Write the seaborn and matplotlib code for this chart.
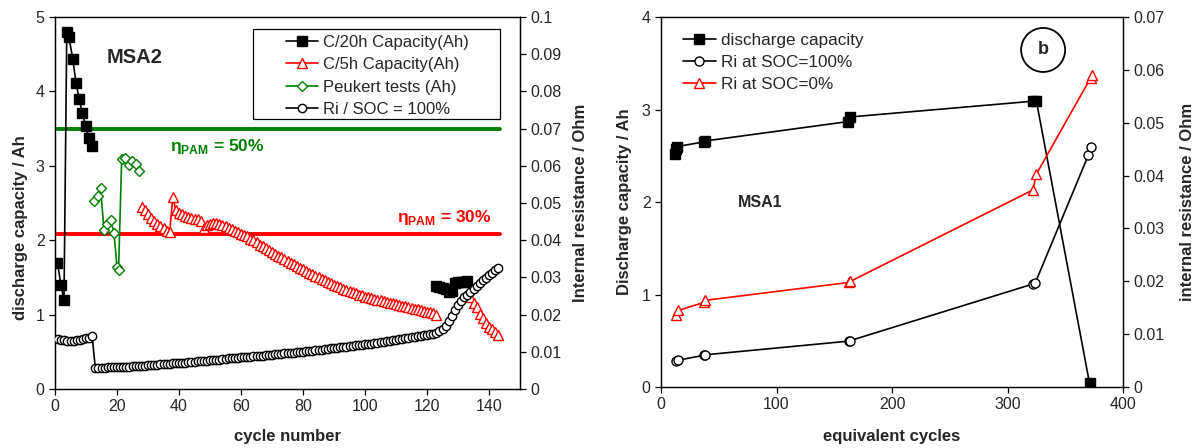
import matplotlib
matplotlib.use('Agg')
import matplotlib.pyplot as plt
import seaborn as sns
import numpy as np
from matplotlib.lines import Line2D
from matplotlib.patches import Ellipse, Rectangle
from matplotlib.ticker import FuncFormatter, MultipleLocator

# ----- data: left panel (MSA2) -----
c20_cycle_a = [0.8, 1.9, 2.9, 3.8, 4.5, 5.7, 6.8, 7.8, 8.8, 9.9, 10.9, 12.0]
c20_cap_a = [1.70, 1.40, 1.19, 4.80, 4.73, 4.44, 4.11, 3.90, 3.71, 3.54, 3.37, 3.26]
c20_cycle_b = [123, 124, 125, 126, 127, 128, 129, 130, 131, 132, 133]
c20_cap_b = [1.38, 1.37, 1.36, 1.34, 1.31, 1.32, 1.42, 1.44, 1.44, 1.44, 1.45]

peukert_cycle = [12.7, 13.8, 14.7, 15.8, 16.9, 18.0, 19.0, 20.0, 20.5, 21.5, 22.6, 23.9, 24.9, 26.1, 27.0]
peukert_cap = [2.53, 2.59, 2.70, 2.14, 2.22, 2.27, 2.10, 1.64, 1.60, 3.09, 3.11, 3.01, 3.06, 3.03, 2.93]

c5_cycle_a = list(range(28, 124))
c5_cap_a = [2.45, 2.40, 2.35, 2.30, 2.26, 2.22, 2.19, 2.16, 2.13, 2.11,
            2.58, 2.40, 2.37, 2.35, 2.33, 2.31, 2.30, 2.29, 2.28, 2.26,
            2.16, 2.20, 2.22, 2.23, 2.23, 2.22, 2.21, 2.19, 2.17, 2.15,
            2.13, 2.11, 2.09, 2.07, 2.05, 2.02, 2.00, 1.97, 1.94, 1.92,
            1.89, 1.87, 1.84, 1.82, 1.79, 1.77, 1.75, 1.72, 1.70, 1.68,
            1.65, 1.63, 1.61, 1.59, 1.56, 1.54, 1.52, 1.50, 1.48, 1.46,
            1.44, 1.42, 1.40, 1.39, 1.37, 1.35, 1.33, 1.32, 1.30, 1.29,
            1.27, 1.26, 1.24, 1.23, 1.22, 1.21, 1.20, 1.19, 1.18, 1.17,
            1.16, 1.15, 1.14, 1.13, 1.12, 1.11, 1.10, 1.09, 1.08, 1.07,
            1.06, 1.05, 1.04, 1.03, 1.02, 1.00]
c5_cycle_b = list(range(134, 144))
c5_cap_b = [1.24, 1.16, 1.10, 1.01, 0.95, 0.89, 0.84, 0.80, 0.77, 0.73]

ri_cycle = list(range(1, 144))
ri_ohm = [0.0135, 0.0132, 0.0133, 0.0129, 0.0128, 0.0130, 0.0132, 0.0133, 0.0134, 0.0136, 0.0137, 0.0142,
          0.0056, 0.0056, 0.0057, 0.0057, 0.0058, 0.0058, 0.0058,
          0.0058, 0.0059, 0.0059, 0.0060, 0.0060, 0.0061, 0.0062, 0.0062, 0.0063, 0.0063,
          0.0064, 0.0064, 0.0065, 0.0065, 0.0066, 0.0067, 0.0067, 0.0068, 0.0069, 0.0069,
          0.0070, 0.0071, 0.0071, 0.0072, 0.0073, 0.0073, 0.0074, 0.0075, 0.0076, 0.0076,
          0.0077, 0.0078, 0.0079, 0.0079, 0.0080, 0.0081, 0.0082, 0.0083, 0.0083, 0.0084,
          0.0085, 0.0086, 0.0086, 0.0087, 0.0088, 0.0089, 0.0089, 0.0090, 0.0091, 0.0092,
          0.0092, 0.0093, 0.0094, 0.0095, 0.0096, 0.0096, 0.0097, 0.0098, 0.0099, 0.0100,
          0.0100, 0.0101, 0.0102, 0.0103, 0.0104, 0.0105, 0.0106, 0.0107, 0.0108, 0.0109,
          0.0110, 0.0111, 0.0112, 0.0113, 0.0114, 0.0115, 0.0116, 0.0117, 0.0118, 0.0119,
          0.0120, 0.0121, 0.0122, 0.0124, 0.0125, 0.0126, 0.0127, 0.0128, 0.0130, 0.0131,
          0.0133, 0.0134, 0.0135, 0.0137, 0.0138, 0.0139, 0.0140, 0.0142, 0.0143, 0.0144,
          0.0146, 0.0147, 0.0148, 0.0150,
          0.0155, 0.0162, 0.0170, 0.0182, 0.0196, 0.0212, 0.0226, 0.0237, 0.0246, 0.0254,
          0.0262, 0.0270, 0.0278, 0.0285, 0.0292, 0.0299, 0.0306, 0.0313, 0.0319, 0.0325]

pam_span = [0.5, 143.5]
pam_50 = 3.5
pam_30 = 2.09

# ----- data: right panel (MSA1) -----
eq_cycle_cap = [12, 13, 14, 37, 38, 162, 164, 322, 325, 371]
dis_cap = [2.52, 2.57, 2.60, 2.65, 2.66, 2.87, 2.92, 3.09, 3.09, 0.04]
eq_cycle_ri100 = [13, 15, 37, 38, 163, 164, 322, 324, 370, 372]
ri_soc100 = [0.0049, 0.0051, 0.0060, 0.0061, 0.0087, 0.0088, 0.0195, 0.0197, 0.0439, 0.0455]
eq_cycle_ri0 = [13, 15, 37, 38, 163, 164, 322, 325, 372, 373]
ri_soc0 = [0.0137, 0.0145, 0.0160, 0.0164, 0.0198, 0.0200, 0.0373, 0.0403, 0.0585, 0.0590]

GREEN = '#008000'
RED = '#ff0000'

sns.set_style('ticks')
plt.rcParams['font.family'] = ['Liberation Sans', 'DejaVu Sans']
plt.rcParams['mathtext.fontset'] = 'custom'
plt.rcParams['mathtext.rm'] = 'Liberation Sans'
plt.rcParams['mathtext.bf'] = 'Liberation Sans:bold'
plt.rcParams['axes.linewidth'] = 0.9
plt.rcParams['axes.edgecolor'] = 'black'


def draw(ax, x, y, color, marker, ms, mfc, lw=1.2, z=3):
    sns.lineplot(x=x, y=y, ax=ax, color=color, marker=marker, markersize=ms,
                 markerfacecolor=mfc, markeredgecolor=color, markeredgewidth=1.0,
                 lw=lw, estimator=None, sort=False, legend=False, zorder=z)


def ohm_fmt(v, pos):
    s = f'{v:.2f}'.rstrip('0').rstrip('.')
    return s


fig = plt.figure(figsize=(12.01, 4.48), dpi=100)

# ----- left panel -----
ax = fig.add_axes([0.0458, 0.1317, 0.3872, 0.8303])
ax2 = ax.twinx()

sns.lineplot(x=pam_span, y=[pam_50, pam_50], ax=ax, color=GREEN, lw=2.8, zorder=1)
sns.lineplot(x=pam_span, y=[pam_30, pam_30], ax=ax, color=RED, lw=2.8, zorder=1)

draw(ax, c20_cycle_a, c20_cap_a, 'black', 's', 6.5, 'black')
draw(ax, c20_cycle_b, c20_cap_b, 'black', 's', 6.5, 'black')
draw(ax, peukert_cycle, peukert_cap, GREEN, 'D', 5, 'white')
draw(ax, c5_cycle_a, c5_cap_a, RED, '^', 6.5, 'white')
draw(ax, c5_cycle_b, c5_cap_b, RED, '^', 6.5, 'white')
draw(ax2, ri_cycle, ri_ohm, 'black', 'o', 6, 'white')

ax.set_xlim(0, 150)
ax.set_ylim(0, 5)
ax2.set_ylim(0, 0.1)
ax.set_xticks(range(0, 141, 20))
ax.yaxis.set_major_locator(MultipleLocator(1))
ax2.yaxis.set_major_locator(MultipleLocator(0.01))
ax2.yaxis.set_major_formatter(FuncFormatter(ohm_fmt))

ax.set_xlabel('cycle number', fontsize=12, fontweight='bold')
ax.set_ylabel('discharge capacity / Ah', fontsize=12, fontweight='bold')
ax2.set_ylabel('Internal resistance / Ohm', fontsize=12, fontweight='bold')
ax.xaxis.set_label_coords(0.5, -0.108)
ax.yaxis.set_label_coords(-0.058, 0.435)
ax2.yaxis.set_label_coords(1.114, 0.5)

for a in (ax, ax2):
    a.tick_params(labelsize=11.5, length=4, width=0.9, color='black')

ax.text(16.8, 4.45, 'MSA2', fontsize=14.5, fontweight='bold', va='center', ha='left')
ax.text(37.1, 3.26, r'η$_{\mathbf{PAM}}$ = 50%', color=GREEN, fontsize=12.5,
        fontweight='bold', va='center', ha='left')
ax.text(110.2, 2.31, r'η$_{\mathbf{PAM}}$ = 30%', color=RED, fontsize=12.5,
        fontweight='bold', va='center', ha='left')

# legend box (wider than its content, as in the original)
ax2.add_patch(Rectangle((0.426, 0.726), 0.531, 0.242, transform=ax2.transAxes,
                        facecolor='white', edgecolor='black', lw=0.9, zorder=4))
left_handles = [
    Line2D([], [], color='black', marker='s', ms=6.5, mfc='black', lw=1.2),
    Line2D([], [], color=RED, marker='^', ms=6.5, mfc='white', lw=1.2),
    Line2D([], [], color=GREEN, marker='D', ms=5, mfc='white', lw=1.2),
    Line2D([], [], color='black', marker='o', ms=6, mfc='white', lw=1.2),
]
left_labels = ['C/20h Capacity(Ah)', 'C/5h Capacity(Ah)', 'Peukert tests (Ah)', 'Ri / SOC = 100%']
leg = ax2.legend(left_handles, left_labels, loc='upper left', bbox_to_anchor=(0.497, 0.953),
                 fontsize=12, frameon=False, numpoints=1, handlelength=1.9,
                 handletextpad=0.3, labelspacing=0.45, borderpad=0, borderaxespad=0)
leg.set_zorder(6)

# ----- right panel -----
bx = fig.add_axes([0.5504, 0.136, 0.3847, 0.826])
bx2 = bx.twinx()

draw(bx, eq_cycle_cap, dis_cap, 'black', 's', 7, 'black')
draw(bx2, eq_cycle_ri100, ri_soc100, 'black', 'o', 6.5, 'white')
draw(bx2, eq_cycle_ri0, ri_soc0, RED, '^', 7, 'white')

bx.set_xlim(0, 400)
bx.set_ylim(0, 4)
bx2.set_ylim(0, 0.07)
bx.xaxis.set_major_locator(MultipleLocator(100))
bx.yaxis.set_major_locator(MultipleLocator(1))
bx2.yaxis.set_major_locator(MultipleLocator(0.01))
bx2.yaxis.set_major_formatter(FuncFormatter(ohm_fmt))

bx.set_xlabel('equivalent cycles', fontsize=12, fontweight='bold')
bx.set_ylabel('Discharge capacity / Ah', fontsize=12, fontweight='bold')
bx2.set_ylabel('internal resistance / Ohm', fontsize=12, fontweight='bold')
bx.xaxis.set_label_coords(0.5, -0.114)
bx.yaxis.set_label_coords(-0.0625, 0.5)
bx2.yaxis.set_label_coords(1.123, 0.5)

for a in (bx, bx2):
    a.tick_params(labelsize=11.5, length=4, width=0.9, color='black')

bx.text(66.7, 1.99, 'MSA1', fontsize=11.5, fontweight='bold', va='center', ha='left')

circ = Ellipse((0.827, 0.911), 0.0952, 0.119, transform=bx.transAxes,
               fill=False, edgecolor='black', lw=1.3)
bx.add_patch(circ)
bx.text(0.827, 0.911, 'b', transform=bx.transAxes, fontsize=13, fontweight='bold',
        ha='center', va='center')

right_handles = [
    Line2D([], [], color='black', marker='s', ms=7, mfc='black', lw=1.2),
    Line2D([], [], color='black', marker='o', ms=6.5, mfc='white', lw=1.2),
    Line2D([], [], color=RED, marker='^', ms=7, mfc='white', lw=1.2),
]
right_labels = ['discharge capacity', 'Ri at SOC=100%', 'Ri at SOC=0%']
bx2.legend(right_handles, right_labels, loc='upper left', bbox_to_anchor=(0.048, 0.958),
           fontsize=12.3, frameon=False, numpoints=1, handlelength=1.9,
           handletextpad=0.3, labelspacing=0.42, borderpad=0, borderaxespad=0)

fig.savefig('out.png', dpi=100)
